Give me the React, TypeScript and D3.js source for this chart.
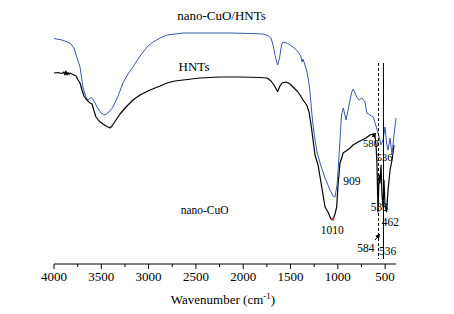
import React from "react";
import * as d3 from "d3";

// Spectrum of nano-CuO/HNTs (blue): [wavenumber, transmittance]
const cuoHntsWn = [4000,3915,3831,3789,3757,3725,3693,3662,3641,3609,3588,3545,3503,3461,3419,3376,3323,3271,3218,3165,3112,3059,3006,2953,2879,2805,2721,2636,2457,2140,1928,1791,1738,1706,1685,1664,1637,1616,1595,1579,1558,1526,1505,1474,1437,1410,1389,1378,1368,1347,1326,1310,1294,1278,1262,1241,1220,1188,1135,1082,1051,1030,1008,993,977,961,942,913,892,853,836,800,773,747,712,694,660,625,590,564,543,522,501,485,469,448,427,406,385];
const cuoHntsT = [90.2,89.6,88.4,86.4,82.4,78.8,70.4,66.8,65.6,66.6,66.0,62.8,60.4,59.6,60.8,62.8,67.2,72.4,76.0,78.8,82.0,84.8,87.2,88.8,90.4,91.6,92.0,92.4,92.4,92.4,92.2,92.0,91.4,90.4,87.6,83.6,79.6,82.4,87.6,88.8,88.6,88.2,87.6,86.8,85.6,84.4,82.8,80.8,82.0,79.6,76.8,73.6,68.8,61.6,55.6,49.6,44.8,40.4,34.4,29.6,27.2,26.8,31.6,39.6,49.6,59.6,62.4,57.6,61.6,68.8,70.0,66.8,65.6,66.4,64.8,60.4,59.6,58.8,54.4,50.8,47.6,49.6,54.8,48.4,45.6,50.4,43.6,51.6,58.4];

// Spectrum of HNTs (black)
const hntsWn = [4000,3958,3915,3894,3884,3873,3863,3852,3841,3831,3810,3789,3767,3746,3725,3704,3683,3662,3641,3619,3598,3577,3556,3524,3482,3450,3429,3408,3387,3345,3302,3239,3165,3091,2985,2879,2805,2721,2636,2457,2245,2034,1822,1748,1706,1674,1637,1611,1590,1547,1505,1474,1431,1399,1368,1329,1304,1278,1262,1241,1209,1170,1135,1104,1072,1051,1030,1012,998,987,977,956,945,913,871,839,786,744,702,660,628,607,596,586,575,564,554,543,533,522,512,501,485,469,448,427,406];
const hntsT = [76.4,76.6,76.2,76.8,75.6,77.2,75.6,76.6,75.8,76.4,76.0,75.6,75.2,73.6,72.4,69.6,67.2,66.0,65.2,64.4,64.0,61.2,58.8,57.2,56.0,55.2,54.8,54.4,55.2,57.6,60.0,62.8,65.6,67.6,69.6,71.2,72.4,73.2,73.6,74.4,74.8,74.8,74.6,74.4,73.2,71.6,69.0,71.2,72.4,72.8,72.0,70.8,69.2,67.6,65.6,63.6,60.8,54.4,49.6,43.6,39.6,30.8,22.8,20.8,18.0,17.6,20.0,22.8,31.6,36.0,40.4,42.8,44.4,45.2,46.4,47.6,48.8,49.6,50.4,51.6,52.0,51.2,47.6,39.6,20.8,35.6,32.4,39.6,27.6,22.8,33.6,23.6,20.8,29.6,37.6,41.6,47.6];

const majorTicks = [4000, 3500, 3000, 2500, 2000, 1500, 1000, 500];
const minorTicks = [3750, 3250, 2750, 2250, 1750, 1250, 750];

// Annotations
const annoText = ["nano-CuO/HNTs", "HNTs", "nano-CuO", "909", "1010", "538", "462", "584", "536", "580", "536"];
const annoWn = [2230, 2520, 2661, 942, 1181, 652, 536, 794, 564, 734, 589];
const annoT = [97.6, 77.4, 20, 31.6, 12, 21.2, 15.2, 4.8, 3.6, 46.8, 41.4];
const annoSize = [13, 13, 11.5, 11.5, 11.5, 11.5, 11.5, 11.5, 11.5, 10.5, 10.5];
const annoAnchor = ["middle", "middle", "start", "start", "start", "start", "start", "start", "start", "start", "start"];

const markerPeak = [1054, 18];
const dashedLineWn = 570;
const solidLineWn = 517;
const guideT = [80.4, 2];
// arrows: [fromWn, fromT, toWn, toT]
const arrows = [
  [607, 9.6, 555, 12],
  [640, 50.8, 596, 52.4],
];

const W = 454, H = 314;
const FONT = "Liberation Serif, Times New Roman, serif";

export default function App() {
  const x = d3.scaleLinear().domain([4000, 385]).range([54, 396]);
  const y = d3.scaleLinear().domain([0, 100]).range([264, 14]);
  const line = d3.line<[number, number]>().x(d => x(d[0])).y(d => y(d[1]));
  const blue = cuoHntsWn.map((w, i) => [w, cuoHntsT[i]] as [number, number]);
  const black = hntsWn.map((w, i) => [w, hntsT[i]] as [number, number]);
  const axisY = y(0);

  return (
    <svg width={W} height={H} style={{ position: "absolute", left: 0, top: 0, background: "#fff", fontFamily: FONT }}>
      <defs>
        <marker id="ah" viewBox="0 0 10 10" refX="9" refY="5" markerWidth="5" markerHeight="5" orient="auto">
          <path d="M0,0 L10,5 L0,10 z" fill="#000" />
        </marker>
      </defs>
      <path d={line(black) || ""} fill="none" stroke="#000" strokeWidth={1.2} strokeLinejoin="round" />
      <path d={line(blue) || ""} fill="none" stroke="#3a58a8" strokeWidth={1} strokeLinejoin="round" />
      <circle cx={x(markerPeak[0])} cy={y(markerPeak[1])} r={1.5} fill="#e03030" />
      <line x1={x(dashedLineWn)} x2={x(dashedLineWn)} y1={y(guideT[0])} y2={y(guideT[1])} stroke="#000" strokeWidth={1} strokeDasharray="3,2" />
      <line x1={x(solidLineWn)} x2={x(solidLineWn)} y1={y(guideT[0])} y2={y(guideT[1])} stroke="#000" strokeWidth={1} />
      {arrows.map((a, i) => (
        <line key={i} x1={x(a[0])} y1={y(a[1])} x2={x(a[2])} y2={y(a[3])} stroke="#000" strokeWidth={1} markerEnd="url(#ah)" />
      ))}
      {annoText.map((t, i) => (
        <text key={i} x={x(annoWn[i])} y={y(annoT[i])} fontSize={annoSize[i]} textAnchor={annoAnchor[i]} fill="#000" style={{ fontFamily: FONT }}>{t}</text>
      ))}
      <line x1={x(4000)} x2={x(385)} y1={axisY} y2={axisY} stroke="#000" strokeWidth={1} />
      {majorTicks.map(t => (
        <g key={t}>
          <line x1={x(t)} x2={x(t)} y1={axisY} y2={axisY + 5} stroke="#000" strokeWidth={1} />
          <text x={x(t)} y={axisY + 17} fontSize={13} textAnchor="middle" style={{ fontFamily: FONT }}>{t}</text>
        </g>
      ))}
      {minorTicks.map(t => (
        <line key={t} x1={x(t)} x2={x(t)} y1={axisY} y2={axisY + 3} stroke="#000" strokeWidth={1} />
      ))}
      <text x={223} y={axisY + 40} fontSize={13} textAnchor="middle" style={{ fontFamily: FONT }}>
        Wavenumber (cm<tspan dy={-5} fontSize={9}>-1</tspan><tspan dy={5}>)</tspan>
      </text>
    </svg>
  );
}
